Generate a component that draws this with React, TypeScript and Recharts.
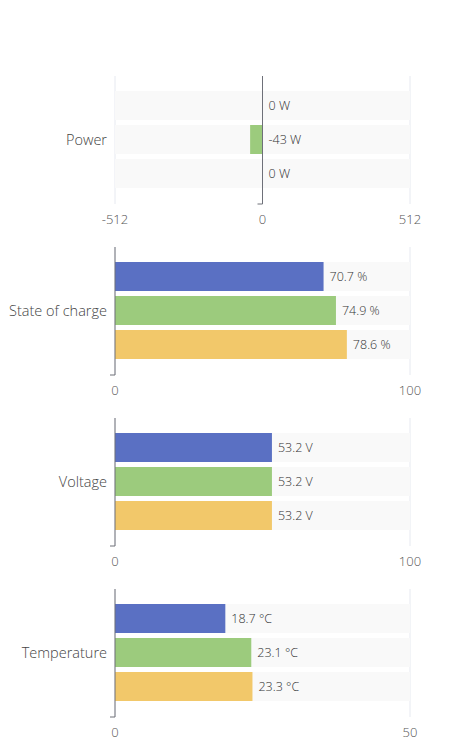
import React from "react";
import {
  BarChart,
  Bar,
  XAxis,
  YAxis,
  CartesianGrid,
  LabelList,
  ReferenceLine,
} from "recharts";

const categories = ["Power", "State of charge", "Voltage", "Temperature"];
const units = ["W", "%", "V", "°C"];
const axisMin = [-512, 0, 0, 0];
const axisMax = [512, 100, 100, 50];

// one value per category for each battery
const battery1 = [0, 70.7, 53.2, 18.7];
const battery2 = [-43, 74.9, 53.2, 23.1];
const battery3 = [0, 78.6, 53.2, 23.3];

const colors = ["#5a70c3", "#9ccb7d", "#f2c86a"];
const FONT = "'Open Sans', sans-serif";

const ValueLabel = (unit: string) => (props: any) => {
  const { x, y, width, height, value } = props;
  const right = Math.max(x, x + width) + 6;
  return (
    <text
      x={right}
      y={y + height / 2}
      dy="0.35em"
      fill="#333"
      fontSize={12.5}
      fontFamily={FONT}
      fontWeight={300}
    >
      {`${value} ${unit}`}
    </text>
  );
};

// axis line at zero with a small tick at the bottom end
const ZeroLine = (props: any) => {
  const { x1, y1, y2 } = props;
  const bottom = Math.max(y1, y2);
  return (
    <g>
      <line x1={x1} y1={y1} x2={x1} y2={y2} stroke="#6e7079" strokeWidth={1} />
      <line x1={x1 - 5} y1={bottom} x2={x1} y2={bottom} stroke="#6e7079" strokeWidth={1} />
    </g>
  );
};

function MetricChart({ index }: { index: number }) {
  const data = [
    {
      name: categories[index],
      b1: battery1[index],
      b2: battery2[index],
      b3: battery3[index],
    },
  ];
  const min = axisMin[index];
  const max = axisMax[index];
  const ticks = min < 0 ? [min, 0, max] : [min, max];
  const unit = units[index];
  const series = ["b1", "b2", "b3"];

  return (
    <BarChart
      width={445}
      height={171}
      data={data}
      layout="vertical"
      margin={{ top: 10, right: 43, left: 0, bottom: 0 }}
      barCategoryGap={15}
      barGap={5}
    >
      <CartesianGrid horizontal={false} stroke="#e6e9f0" />
      <XAxis
        type="number"
        domain={[min, max]}
        ticks={ticks}
        axisLine={false}
        tickLine={false}
        height={33}
        tickMargin={5}
        tick={{ fill: "#555", fontSize: 13, fontFamily: FONT, fontWeight: 300 }}
      />
      <YAxis
        type="category"
        dataKey="name"
        width={107}
        axisLine={false}
        tickLine={false}
        tickMargin={2}
        tick={{ fill: "#444", fontSize: 14.5, fontFamily: FONT, fontWeight: 300 }}
      />
      {series.map((key, i) => (
        <Bar
          key={key}
          dataKey={key}
          fill={colors[i]}
          background={{ fill: "#f9f9f9" }}
          minPointSize={0.01}
          isAnimationActive={false}
        >
          <LabelList dataKey={key} content={ValueLabel(unit)} />
        </Bar>
      ))}
      <ReferenceLine x={0} shape={ZeroLine} />
    </BarChart>
  );
}

export default function App() {
  return (
    <div style={{ width: 445, paddingTop: 58, background: "#fff" }}>
      {categories.map((c, i) => (
        <MetricChart key={c} index={i} />
      ))}
    </div>
  );
}
